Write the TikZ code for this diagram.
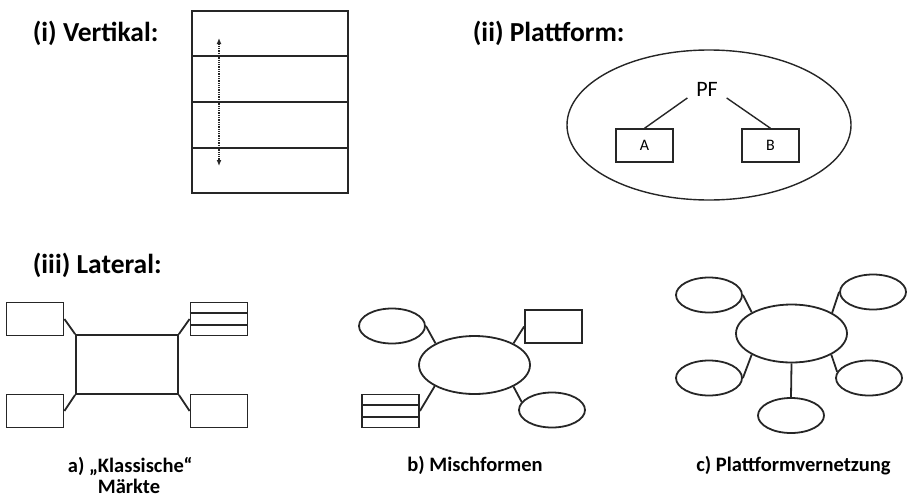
\documentclass[tikz,border=0pt]{standalone}
\usepackage{fontspec}
\setmainfont{Carlito}
\usetikzlibrary{shapes.geometric,arrows.meta,positioning,calc}

\begin{document}
\begin{tikzpicture}[
    x=1pt, y=-1pt,
    line width=1.8pt, draw=black!85,
    every node/.style={inner sep=0pt},
    heading/.style={font=\fontsize{27.5}{32}\selectfont\bfseries, anchor=base west},
    caption/.style={font=\fontsize{20.5}{21}\selectfont\bfseries, anchor=base},
    box/.style={rectangle, draw, minimum width=57pt, minimum height=33pt},
    blob/.style={ellipse, draw, minimum width=66pt, minimum height=35pt},
    hub/.style={ellipse, draw, minimum width=111pt, minimum height=58pt},
    thin line/.style={line width=1.4pt}
]
    \useasboundingbox (0,0) rectangle (912,498);

    % --- (i) Vertikal ---
    \node[heading] (tv) at (32,41) {(i) Vertikal:};
    \node[rectangle, draw, minimum width=156pt, minimum height=182pt] (stack) at (270,102) {};
    \foreach \f in {0.25,0.5,0.75}
        \draw ($(stack.north west)!\f!(stack.south west)$) -- ($(stack.north east)!\f!(stack.south east)$);
    \coordinate (up) at (219,38);
    \coordinate (down) at (219,166);
    \draw[densely dotted, line width=1.3pt, {Latex[length=6pt,width=5pt]}-{Latex[length=6pt,width=5pt]}] (up) -- (down);

    % --- (ii) Plattform ---
    \node[heading] (tp) at (472,41) {(ii) Plattform:};
    \node[ellipse, draw, thin line, minimum width=284pt, minimum height=150pt] (pool) at (709,125) {};
    \node[font=\fontsize{22}{26}\selectfont, inner xsep=8pt, inner ysep=1pt] (pf) at (707,89) {PF};
    \node[box, thin line, font=\fontsize{16}{18}\selectfont] (sideA) at (644.5,145.5) {A};
    \node[box, thin line, font=\fontsize{16}{18}\selectfont] (sideB) at (770.5,145.5) {B};
    \draw[thin line] (pf.south west) -- (sideA.north);
    \draw[thin line] (pf.south east) -- (sideB.north);

    % --- (iii) Lateral ---
    \node[heading] (tl) at (32,273) {(iii) Lateral:};

    % a) klassische Maerkte
    \node[rectangle, draw, minimum width=102pt, minimum height=59pt] (mkt) at (127,364.5) {};
    \node[box] (a1) at (35,319) {};
    \node[box] (a2) at (35,411) {};
    \node[box] (a3) at (219,319) {};
    \node[box] (a4) at (219,411) {};
    \foreach \f in {0.333,0.667}
        \draw ($(a3.north west)!\f!(a3.south west)$) -- ($(a3.north east)!\f!(a3.south east)$);
    \draw (a1.east) -- (mkt.north west);
    \draw (a2.east) -- (mkt.south west);
    \draw (a3.west) -- (mkt.north east);
    \draw (a4.west) -- (mkt.south east);

    % b) Mischformen
    \node[hub] (mix) at (474.5,365) {};
    \node[blob] (b1) at (392,326) {};
    \node[box] (b2) at (553.5,326.5) {};
    \node[box] (b3) at (390.5,411) {};
    \node[blob] (b4) at (552,410) {};
    \foreach \f in {0.333,0.667}
        \draw ($(b3.north west)!\f!(b3.south west)$) -- ($(b3.north east)!\f!(b3.south east)$);
    \draw (b1.east) -- (mix.151);
    \draw (b2.west) -- (mix.29);
    \draw (b3.east) -- (mix.208);
    \draw (b4.165) -- (mix.331);

    % c) Plattformvernetzung
    \node[hub] (net) at (791.5,333.5) {};
    \node[blob] (c1) at (709,295) {};
    \node[blob] (c2) at (873,292) {};
    \node[blob] (c3) at (709,378) {};
    \node[blob] (c4) at (869,378) {};
    \node[blob] (c5) at (791,415.5) {};
    \draw (c1.east) -- (net.152);
    \draw (c2.west) -- (net.27);
    \draw (c3.east) -- (net.208);
    \draw (c4.169) -- (net.332);
    \draw (c5.north) -- (net.south);

    % --- captions ---
    \node[caption, align=left, anchor=north west] (capa) at (67,456) {a) „Klassische“\\\hspace*{30pt}Märkte};
    \node[caption] (capb) at (475,471) {b) Mischformen};
    \node[caption] (capc) at (793.5,471) {c) Plattformvernetzung};

\end{tikzpicture}
\end{document}
